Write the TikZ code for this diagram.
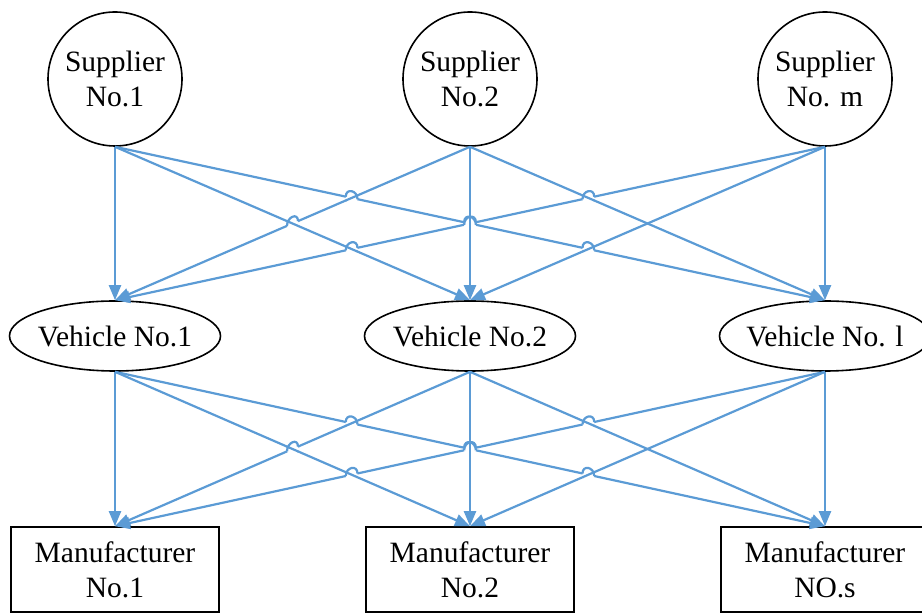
\documentclass[tikz,border=0pt]{standalone}
\usepackage{fontspec}
\setmainfont{Liberation Serif}
\usetikzlibrary{shapes.geometric,arrows.meta,calc}
\definecolor{linkblue}{RGB}{91,155,213}
\tikzset{
  supplier/.style={circle,draw,line width=1.6pt,minimum size=134pt,inner sep=0pt,align=center},
  vehicle/.style={ellipse,draw,line width=1.6pt,minimum width=211pt,minimum height=70pt,inner ysep=0pt,inner xsep=-12pt},
  maker/.style={rectangle,draw,line width=1.6pt,minimum width=208pt,minimum height=85pt,inner sep=0pt,align=center},
  link/.style={linkblue,line width=2.2pt}
}
\def\hops{s1/v3/s2/v1/0.3333, s3/v1/s1/v2/0.6667, s3/v1/s2/v3/0.3333, s1/v3/s3/v2/0.6667,
  s2/v1/s1/v2/0.5, s1/v3/s2/v2/0.5, s3/v1/s2/v2/0.5,
  v1/m3/v2/m1/0.3333, v3/m1/v1/m2/0.6667, v3/m1/v2/m3/0.3333, v1/m3/v3/m2/0.6667,
  v2/m1/v1/m2/0.5, v1/m3/v2/m2/0.5, v3/m1/v2/m2/0.5}
\begin{document}
\begin{tikzpicture}[x=1pt,y=1pt,font=\fontsize{29.5}{35}\selectfont,>={Triangle[length=15pt,width=12pt]}]
	\useasboundingbox (0,0) rectangle (922,613);
	\node[supplier] (s1) at (115,534) {Supplier\\No.1};
	\node[supplier] (s2) at (470,534) {Supplier\\No.2};
	\node[supplier] (s3) at (825,534) {Supplier\\No. m};
	\node[vehicle] (v1) at (115,277) {Vehicle No.1};
	\node[vehicle] (v2) at (470,277) {Vehicle No.2};
	\node[vehicle] (v3) at (825,277) {Vehicle No. l};
	\node[maker] (m1) at (115,43.5) {Manufacturer\\No.1};
	\node[maker] (m2) at (470,43.5) {Manufacturer\\No.2};
	\node[maker] (m3) at (825,43.5) {Manufacturer\\NO.s};
	\foreach \a in {s1,s2,s3}
		\foreach \b in {v1,v2,v3}
			\draw[link,->] (\a.south) -- (\b.north);
	\foreach \a in {v1,v2,v3}
		\foreach \b in {m1,m2,m3}
			\draw[link,->] (\a.south) -- (\b.north);
	%line hops
	\foreach \a/\b/\c/\d/\f in \hops {
		\coordinate (h) at ($(\a.south)!\f!(\b.north)$);
		\fill[white] (h) circle (6pt);
		\begin{scope}
			\clip (h) circle (6.5pt);
			\draw[link] (\c.south) -- (\d.north);
		\end{scope}
	}
	\foreach \a/\b/\c/\d/\f in \hops {
		\coordinate (h) at ($(\a.south)!\f!(\b.north)$);
		\draw[link] ($(h)!6pt!(\a.south)$) .. controls +(0,9pt) and +(0,9pt) .. ($(h)!6pt!(\b.north)$);
	}
\end{tikzpicture}
\end{document}
